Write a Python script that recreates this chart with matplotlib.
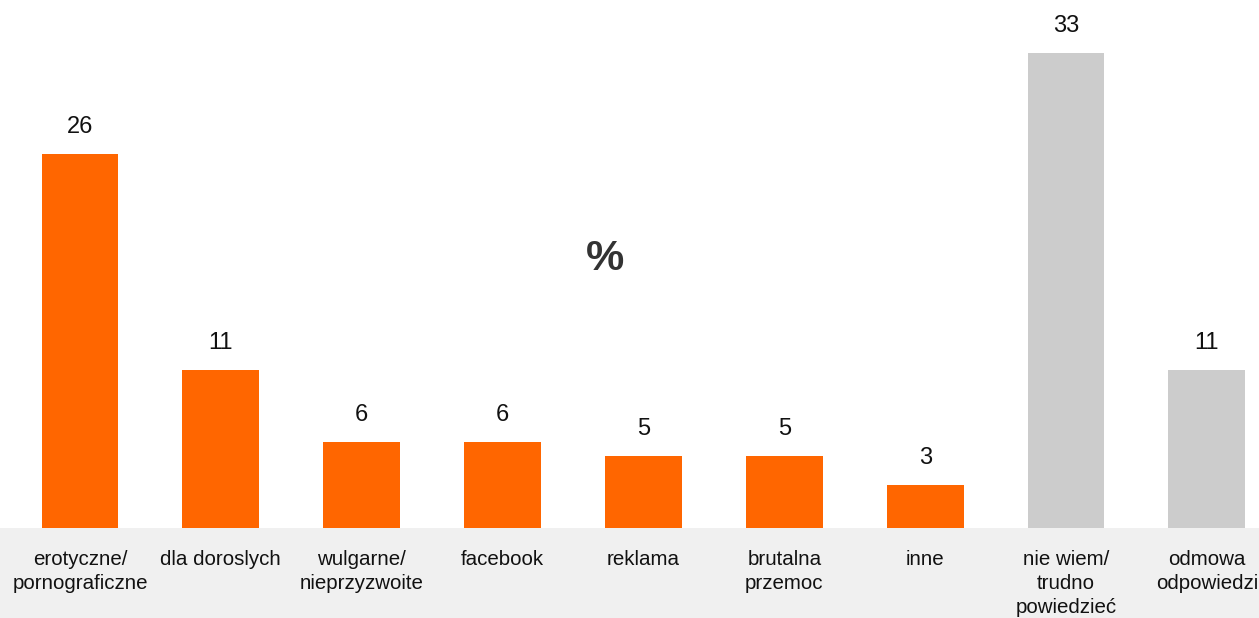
import numpy as np
import matplotlib
matplotlib.use('Agg')
import matplotlib.pyplot as plt
from matplotlib.patches import Rectangle

plt.rcParams['font.family'] = ['Liberation Sans', 'DejaVu Sans']

categories = ['erotyczne/\npornograficzne', 'dla doroslych', 'wulgarne/\nnieprzyzwoite',
              'facebook', 'reklama', 'brutalna\nprzemoc', 'inne',
              'nie wiem/\ntrudno\npowiedzieć', 'odmowa\nodpowiedzi']
values = [26, 11, 6, 6, 5, 5, 3, 33, 11]
bar_colors = ['#ff6600'] * 7 + ['#cccccc'] * 2

fig = plt.figure(figsize=(12.59, 6.18), dpi=100)
base = 90 / 618.0

# light gray band behind the category labels
fig.patches.append(Rectangle((0, 0), 1, base, transform=fig.transFigure,
                             facecolor='#f0f0f0', edgecolor='none', zorder=-5))

ax = fig.add_axes([0, base, 1, 1 - base])
ax.patch.set_alpha(0)
x = np.arange(len(values))
ax.bar(x, values, width=0.545, color=bar_colors)
for xi, v in zip(x, values):
    ax.text(xi, v + 1.1, str(v), ha='center', va='bottom', fontsize=17, color='#111111')

ax.set_xlim(-0.568, 8.37)
ax.set_ylim(0, 36.7)
ax.set_xticks(x)
ax.set_xticklabels(categories, fontsize=14.8, color='#111111', linespacing=1.32)
ax.tick_params(axis='x', length=0, pad=16)
ax.set_yticks([])
for s in ax.spines.values():
    s.set_visible(False)

fig.text(605 / 1259, 1 - 259 / 618, '%', ha='center', va='center',
         fontsize=31, fontweight='bold', color='#333333')

fig.savefig('out.png', dpi=100)
